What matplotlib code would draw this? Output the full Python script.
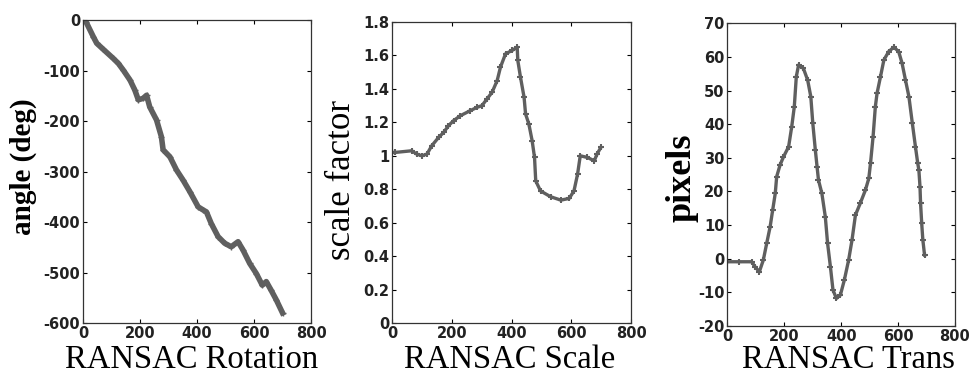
import matplotlib
matplotlib.use("Agg")
import matplotlib.pyplot as plt
from matplotlib.ticker import FuncFormatter

plt.rcParams['axes.unicode_minus'] = False

# RANSAC rotation (frame, angle in deg)
rot_x = [0, 10, 36, 48, 71, 106, 124, 141, 165, 182, 194, 211, 223, 234, 258, 275,
         281, 305, 328, 351, 375, 404, 421, 433, 450, 474, 497, 520, 544, 561, 585,
         608, 629, 643, 660, 678, 700]
rot_y = [0, -3, -33, -46, -58, -76, -86, -99, -119, -139, -158, -155, -149, -172,
         -198, -231, -257, -271, -297, -317, -340, -370, -376, -380, -403, -429,
         -442, -449, -439, -455, -482, -502, -525, -518, -535, -554, -580]

# RANSAC scale (frame, scale factor)
scale_x = [0, 10, 66, 83, 100, 117, 133, 156, 173, 189, 206, 229, 262, 285, 301,
           318, 335, 352, 363, 380, 402, 419, 421, 430, 442, 447, 458, 469, 477,
           481, 497, 531, 565, 593, 609, 621, 630, 654, 677, 686, 699]
scale_y = [1.02, 1.02, 1.03, 1.01, 1.0, 1.01, 1.06, 1.11, 1.14, 1.18, 1.21, 1.24,
           1.27, 1.29, 1.30, 1.34, 1.38, 1.45, 1.53, 1.61, 1.63, 1.65, 1.57, 1.47,
           1.35, 1.25, 1.19, 1.09, 0.99, 0.85, 0.79, 0.755, 0.735, 0.745, 0.79,
           0.89, 1.0, 0.99, 0.97, 1.01, 1.05]

# RANSAC translation (frame, pixels)
trans_x = [0, 40, 85, 97, 112, 126, 138, 150, 159, 168, 173, 185, 197, 215, 226,
           235, 242, 250, 267, 282, 293, 300, 309, 315, 320, 332, 344, 352, 362,
           371, 383, 397, 411, 426, 438, 450, 467, 485, 497, 503, 512, 520, 526,
           538, 550, 567, 585, 602, 614, 626, 638, 650, 661, 669, 673, 677, 679,
           683, 687, 693]
trans_y = [-0.9, -0.9, -0.9, -2.4, -3.9, -0.4, 4.6, 9.5, 14.5, 19.4, 24.4, 27.9,
           30.3, 33.3, 39.3, 45.2, 54.1, 57.6, 56.6, 53.1, 48.2, 40.3, 32.3, 27.4,
           23.4, 19.4, 12.5, 4.6, -2.4, -9.3, -11.8, -10.8, -6.3, -0.4, 5.6, 13.0,
           16.5, 20.4, 23.9, 28.4, 36.3, 45.2, 49.2, 54.1, 59.1, 61.6, 62.9, 61.6,
           58.1, 53.1, 48.2, 40.3, 33.3, 28.4, 26.4, 21.4, 16.5, 10.5, 5.6, 1.1]

GRAY = "#5f5f5f"
fmt = FuncFormatter(lambda v, p: "%g" % round(v, 2))

fig = plt.figure(figsize=(9.71, 3.77), dpi=100)
ax1 = fig.add_axes([0.0855, 0.1432, 0.2348, 0.8037])
ax2 = fig.add_axes([0.4037, 0.1432, 0.2462, 0.7984])
ax3 = fig.add_axes([0.7492, 0.1353, 0.2343, 0.8029])

ax1.plot(rot_x, rot_y, color=GRAY, linewidth=4, marker='+', markersize=5)
ax2.plot(scale_x, scale_y, color=GRAY, linewidth=2.4, marker='+', markersize=5, mew=1.5)
ax3.plot(trans_x, trans_y, color=GRAY, linewidth=2.4, marker='+', markersize=5, mew=1.5)

# axis, y-limits, ticks, y label (text, size, weight, coords), x label (text, coords)
panels = [
    (ax1, (-600, 0), range(-600, 1, 100), ("angle (deg)", 21, 'bold', -0.20, 0.515),
     ("RANSAC Rotation", 0.478, -0.172)),
    (ax2, (0, 1.8), [i * 0.2 for i in range(10)], ("scale factor", 25, 'normal', -0.142, 0.475),
     ("RANSAC Scale", 0.494, -0.173)),
    (ax3, (-20, 70), range(-20, 71, 10), ("pixels", 26, 'bold', -0.128, 0.489),
     ("RANSAC Trans", 0.53, -0.162)),
]
for ax, ylim, yticks, ylab, xlab in panels:
    ax.set_xlim(0, 800)
    ax.set_xticks(range(0, 801, 200))
    ax.set_ylim(*ylim)
    ax.set_yticks(list(yticks))
    ax.yaxis.set_major_formatter(fmt)
    ax.tick_params(direction='in', top=True, right=True, length=3, width=0.8,
                   labelsize=10.5, pad=2)
    for lbl in ax.get_xticklabels() + ax.get_yticklabels():
        lbl.set_fontweight('bold')
        lbl.set_color('#222222')
    for sp in ax.spines.values():
        sp.set_linewidth(0.9)
        sp.set_color('#333333')
    text, size, weight, lx, ly = ylab
    ax.set_ylabel(text, family='Liberation Serif', fontsize=size, fontweight=weight)
    ax.yaxis.set_label_coords(lx, ly)
    text, lx, ly = xlab
    ax.set_xlabel(text, family='Liberation Serif', fontsize=23.5, va='bottom')
    ax.xaxis.set_label_coords(lx, ly)

fig.savefig("out.png", dpi=100)
